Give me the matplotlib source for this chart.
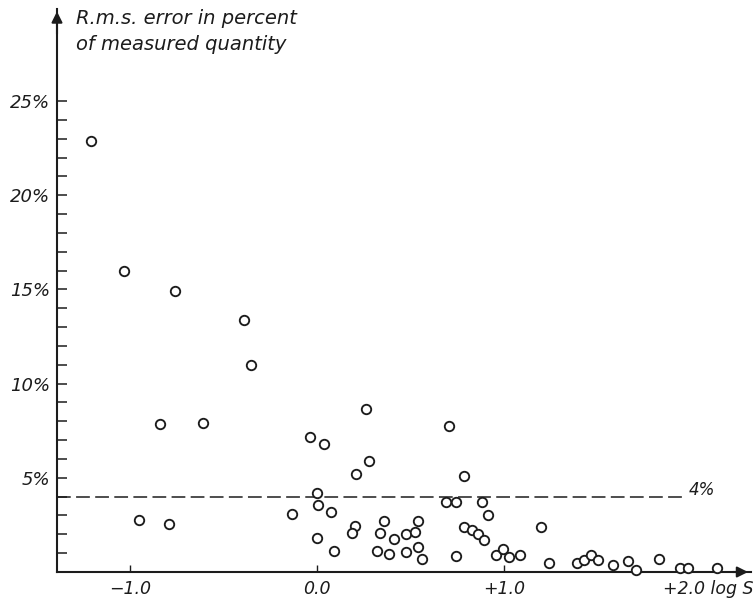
import matplotlib.pyplot as plt

# log S values and r.m.s. error (percent)
log_s = [-1.21, -1.03, -0.76, -0.39, -0.355, -0.84, -0.61, -0.95, -0.79,
         -0.135, -0.035, 0.04, 0.0, 0.007, 0.075, 0.002, 0.093,
         0.265, 0.278, 0.209, 0.201, 0.186,
         0.358, 0.335, 0.41, 0.321, 0.383, 0.478, 0.524, 0.542, 0.474, 0.54, 0.563,
         0.708, 0.788, 0.69, 0.745, 0.881, 0.914, 0.788, 0.829, 0.863, 0.891,
         0.743, 0.957, 0.995, 1.028, 1.084, 1.198, 1.239,
         1.389, 1.426, 1.463, 1.504, 1.585, 1.661, 1.708, 1.831, 1.941, 1.986, 2.141]
rms_error = [22.9, 16.0, 14.9, 13.4, 11.0, 7.86, 7.91, 2.74, 2.55,
             3.06, 7.17, 6.79, 4.21, 3.54, 3.17, 1.79, 1.10,
             8.65, 5.91, 5.18, 2.42, 2.07,
             2.71, 2.09, 1.77, 1.11, 0.96, 2.02, 2.14, 2.72, 1.08, 1.33, 0.69,
             7.75, 5.11, 3.70, 3.70, 3.70, 3.04, 2.41, 2.23, 2.02, 1.68,
             0.85, 0.92, 1.20, 0.81, 0.90, 2.41, 0.50,
             0.48, 0.65, 0.92, 0.62, 0.35, 0.58, 0.09, 0.69, 0.19, 0.19, 0.19]

y_ticks = [5, 10, 15, 20, 25]
y_tick_labels = ['5%', '10%', '15%', '20%', '25%']
x_ticks = [-1.0, 0.0, 1.0]
x_tick_labels = ['\u22121.0', '0.0', '+1.0']
limit_level = 4.0

ink = '#1c1c1c'
font = dict(family='DejaVu Sans', style='italic', color=ink)

fig = plt.figure(figsize=(7.56, 6.03), dpi=100)
ax = fig.add_axes([57 / 756, 31 / 603, (750.8 - 57) / 756, (572 - 8.7) / 603])
ax.set_xlim(-1.39, 2.32)
ax.set_ylim(0, 29.9)

ax.plot(log_s, rms_error, 'o', ms=6.8, mfc='white', mec=ink, mew=1.35, clip_on=False, zorder=3)
ax.plot([-1.39, 1.96], [limit_level, limit_level], color=ink, lw=1.1,
        linestyle=(0, (9, 3.5)), zorder=2)
ax.text(1.99, 4.35, '4%', fontsize=12, ha='left', va='center', **font)

for side in ['top', 'right']:
    ax.spines[side].set_visible(False)
for side in ['left', 'bottom']:
    ax.spines[side].set_color(ink)
    ax.spines[side].set_linewidth(1.5)

# arrow heads on both axes
ax.annotate('', xy=(0, 1.0), xytext=(0, 0.95), xycoords='axes fraction',
            arrowprops=dict(arrowstyle='-|>', color=ink, lw=1.5, mutation_scale=16))
ax.annotate('', xy=(1.0, 0), xytext=(0.97, 0), xycoords='axes fraction',
            arrowprops=dict(arrowstyle='-|>', color=ink, lw=1.5, mutation_scale=16))

ax.set_yticks(y_ticks)
ax.set_yticklabels(y_tick_labels, fontsize=13, **font)
ax.set_yticks(range(1, 25), minor=True)
ax.tick_params(axis='y', which='both', direction='in', length=7, width=1.1, colors=ink, pad=5)

ax.set_xticks(x_ticks + [2.0])
ax.set_xticklabels(x_tick_labels + [''], fontsize=12.5, **font)
ax.tick_params(axis='x', direction='in', length=5, width=1.0, colors=ink, pad=6)

ax.text(1.85, -0.9, '+2.0 log S', fontsize=12.5, ha='left', va='center', clip_on=False, **font)
ax.text(-1.29, 29.9, 'R.m.s. error in percent\nof measured quantity', fontsize=14,
        ha='left', va='top', linespacing=1.5, **font)

fig.savefig('out.png', dpi=100, facecolor='white')
